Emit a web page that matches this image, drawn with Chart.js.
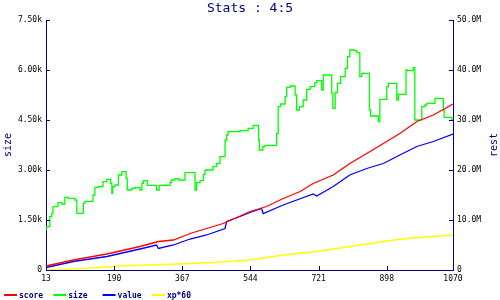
<!DOCTYPE html>
<html>
<head>
<meta charset="utf-8">
<title>Stats : 4:5</title>
<script src="https://cdn.jsdelivr.net/npm/chart.js@4"></script>
<style>
    html, body { margin: 0; padding: 0; background: #fff; }
    #wrap { width: 500px; height: 300px; }
</style>
</head>
<body>
<div id="wrap"><canvas id="myChart"></canvas></div>
<script>
const xTicks = [13, 190, 367, 544, 721, 898, 1070];

// size (left axis)
const sizeX = [13, 23, 28, 31, 44, 54, 62, 71, 88, 93, 101, 110, 114, 123, 135, 140, 149, 161, 171, 181,
    184, 186, 192, 201, 210, 221, 224, 236, 244, 257, 262, 266, 276, 283, 300, 307, 313, 335, 339, 348,
    357, 374, 377, 400, 404, 413, 422, 426, 430, 447, 456, 465, 478, 482, 486, 495, 517, 538, 551, 565,
    567, 576, 582, 612, 616, 622, 634, 638, 647, 660, 664, 671, 681, 690, 699, 711, 716, 729, 733, 742,
    755, 758, 764, 770, 778, 790, 796, 802, 813, 820, 828, 833, 841, 853, 856, 861, 876, 880, 885, 898,
    902, 911, 924, 928, 937, 948, 951, 967, 971, 976, 989, 997, 1002, 1023, 1036, 1045, 1047, 1054, 1067, 1070];
const sizeVals = [1180, 1300, 1600, 1700, 1900, 2020, 1980, 2180, 2150, 2100, 1700, 1700, 2000, 2060, 2060, 2250, 2480, 2500, 2650, 2720,
    2600, 2300, 2500, 2550, 2850, 2950, 2750, 2400, 2450, 2470, 2400, 2600, 2680, 2540, 2540, 2400, 2540, 2540, 2620, 2700,
    2740, 2700, 2920, 2920, 2400, 2620, 2680, 2870, 3000, 3000, 3100, 3200, 3400, 3900, 4050, 4150, 4150, 4180, 4250, 4340,
    3900, 3600, 3700, 3740, 4100, 4900, 4980, 5200, 5480, 5520, 5250, 4800, 4900, 5100, 5420, 5500, 5620, 5680, 5400, 5850,
    5850, 5300, 4850, 5320, 5600, 5800, 6050, 6400, 6600, 6580, 6520, 5800, 5900, 5900, 4800, 4620, 4620, 4450, 5120, 5120,
    5500, 5600, 5600, 5100, 5270, 5270, 6000, 5980, 6080, 4500, 4500, 4900, 4950, 5000, 5150, 5150, 4800, 4580, 4580, 4500];

// rest (right axis, millions)
const scoreX = [13, 84, 171, 257, 305, 344, 387, 430, 473, 517, 543, 586, 629, 673, 707, 759, 802, 846, 889, 932, 976, 1019, 1070];
const scoreVals = [0.8, 2.0, 3.2, 4.7, 5.7, 6.0, 7.3, 8.3, 9.3, 10.8, 11.7, 12.7, 14.3, 15.7, 17.3, 19.0, 21.3, 23.3, 25.3, 27.3, 29.7, 31.0, 33.2];

const valueX = [13, 84, 171, 257, 300, 305, 344, 387, 430, 478, 482, 517, 543, 573, 577, 629, 707, 716, 759, 802, 846, 889, 932, 976, 1019, 1070];
const valueVals = [0.5, 1.7, 2.7, 4.2, 5.0, 4.3, 5.0, 6.2, 7.0, 8.3, 9.7, 10.7, 11.5, 12.3, 11.3, 13.0, 15.2, 14.8, 16.7, 19.0, 20.3, 21.3, 23.0, 24.7, 25.7, 27.2];

const xpX = [13, 67, 153, 205, 283, 361, 447, 543, 629, 716, 802, 889, 950, 1019, 1070];
const xpVals = [0, 0.13, 0.5, 0.8, 1.0, 1.2, 1.5, 2.0, 3.0, 3.7, 4.7, 5.7, 6.3, 6.7, 7.0];

const NAVY = '#000080';
const MONO = "'DejaVu Sans Mono', monospace";

function toPoints(xs, ys) {
    return xs.map((x, i) => ({ x: x, y: ys[i] }));
}

// ticks point into the plot, right title reads bottom-up, legend is a plain row
const extras = {
    id: 'extras',
    afterDatasetsDraw(chart) {
        const ctx = chart.ctx;
        const area = chart.chartArea;
        const len = 4;
        ctx.save();
        ctx.strokeStyle = NAVY;
        ctx.lineWidth = 1;
        ctx.beginPath();
        for (const t of chart.scales.x.ticks) {
            const px = Math.round(chart.scales.x.getPixelForValue(t.value)) + 0.5;
            ctx.moveTo(px, area.bottom);
            ctx.lineTo(px, area.bottom - len);
        }
        for (const t of chart.scales.y.ticks) {
            const py = Math.round(chart.scales.y.getPixelForValue(t.value)) + 0.5;
            ctx.moveTo(area.left, py);
            ctx.lineTo(area.left + len, py);
        }
        for (const t of chart.scales.y1.ticks) {
            const py = Math.round(chart.scales.y1.getPixelForValue(t.value)) + 0.5;
            ctx.moveTo(area.right, py);
            ctx.lineTo(area.right - len, py);
        }
        ctx.stroke();
        ctx.restore();
    },
    afterDraw(chart) {
        const ctx = chart.ctx;
        const area = chart.chartArea;
        ctx.save();
        // right axis title
        ctx.fillStyle = NAVY;
        ctx.font = '10px ' + MONO;
        ctx.textAlign = 'center';
        ctx.textBaseline = 'middle';
        ctx.translate(494, (area.top + area.bottom) / 2);
        ctx.rotate(-Math.PI / 2);
        ctx.fillText('rest', 0, 0);
        ctx.restore();

        // legend
        ctx.save();
        ctx.font = 'bold 8px ' + MONO;
        ctx.textAlign = 'left';
        ctx.textBaseline = 'middle';
        chart.data.datasets.forEach((ds, i) => {
            const x = 4 + i * 49.3;
            ctx.fillStyle = ds.borderColor;
            ctx.fillRect(x, 294, 13, 2);
            ctx.fillStyle = NAVY;
            ctx.fillText(ds.label, x + 15, 295.5);
        });
        ctx.restore();
    }
};

const tickFont = { family: MONO, size: 8 };

const ctx = document.getElementById('myChart').getContext('2d');
const myChart = new Chart(ctx, {
    type: 'line',
    data: {
        datasets: [
            { label: 'score', data: toPoints(scoreX, scoreVals), yAxisID: 'y1', borderColor: '#ff0000', backgroundColor: '#ff0000' },
            { label: 'size', data: toPoints(sizeX, sizeVals), yAxisID: 'y', borderColor: '#00ff00', backgroundColor: '#00ff00', stepped: 'after' },
            { label: 'value', data: toPoints(valueX, valueVals), yAxisID: 'y1', borderColor: '#0000ff', backgroundColor: '#0000ff' },
            { label: 'xp*60', data: toPoints(xpX, xpVals), yAxisID: 'y1', borderColor: '#ffff00', backgroundColor: '#ffff00' }
        ]
    },
    options: {
        responsive: true,
        maintainAspectRatio: false,
        animation: false,
        layout: { padding: { top: 0, right: 0, bottom: 16, left: 0 } },
        elements: {
            point: { radius: 0 },
            line: { borderWidth: 1.3, tension: 0, fill: false }
        },
        plugins: {
            legend: { display: false },
            tooltip: { enabled: false },
            title: {
                display: true,
                text: 'Stats : 4:5',
                color: NAVY,
                font: { family: MONO, size: 13, weight: 'normal', lineHeight: 1.2 },
                padding: { top: 1, bottom: 3.4 }
            }
        },
        scales: {
            x: {
                type: 'linear',
                min: 13,
                max: 1070,
                afterBuildTicks: (s) => { s.ticks = xTicks.map(v => ({ value: v })); },
                afterFit: (s) => { s.height = 14; },
                grid: { display: false, drawTicks: false },
                border: { color: NAVY, width: 1 },
                ticks: { color: '#000', font: tickFont, padding: 4, autoSkip: false, maxRotation: 0, callback: v => String(v) }
            },
            y: {
                position: 'left',
                min: 0,
                max: 7500,
                afterFit: (s) => { s.width = 46; },
                grid: { display: false, drawTicks: false },
                border: { color: NAVY, width: 1 },
                ticks: {
                    color: '#000', font: tickFont, padding: 4, stepSize: 1500,
                    callback: v => v === 0 ? '0' : (v / 1000).toFixed(2) + 'k'
                },
                title: { display: true, text: 'size', color: NAVY, font: { family: MONO, size: 10 }, padding: { top: 2, bottom: 0 } }
            },
            y1: {
                position: 'right',
                min: 0,
                max: 50,
                afterFit: (s) => { s.width = 47; },
                grid: { display: false, drawTicks: false },
                border: { color: NAVY, width: 1 },
                ticks: {
                    color: '#000', font: tickFont, padding: 4, stepSize: 10,
                    callback: v => v === 0 ? '0' : v.toFixed(1) + 'M'
                }
            }
        }
    },
    plugins: [extras]
});
</script>
</body>
</html>
